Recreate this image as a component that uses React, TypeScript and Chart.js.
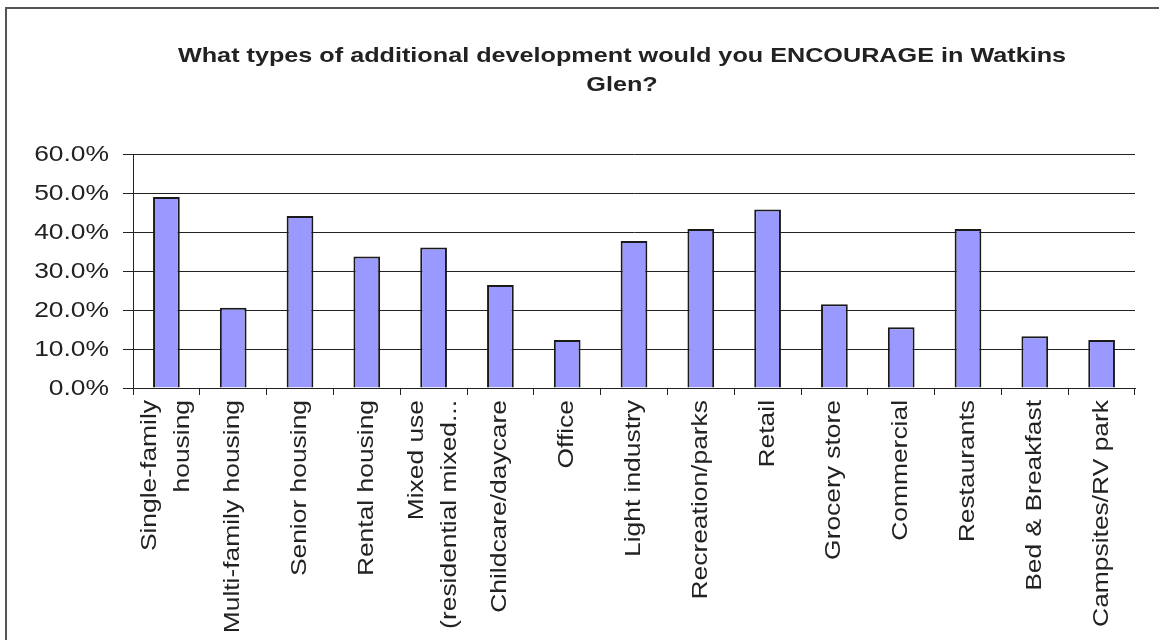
import React, { useEffect, useRef } from 'react';
import { Chart, registerables } from 'chart.js';
Chart.register(...registerables);

const categories: string[][] = [
  ['Single-family', 'housing'],
  ['Multi-family housing'],
  ['Senior housing'],
  ['Rental housing'],
  ['Mixed use', '(residential mixed...'],
  ['Childcare/daycare'],
  ['Office'],
  ['Light industry'],
  ['Recreation/parks'],
  ['Retail'],
  ['Grocery store'],
  ['Commercial'],
  ['Restaurants'],
  ['Bed & Breakfast'],
  ['Campsites/RV park'],
];
const values: number[] = [49.0, 20.6, 44.1, 33.7, 36.0, 26.4, 12.3, 37.7, 40.8, 45.8, 21.5, 15.6, 40.8, 13.3, 12.3];
const yTicks: number[] = [0, 10, 20, 30, 40, 50, 60];
const titleLines: string[] = ['What types of additional development would you ENCOURAGE in Watkins', 'Glen?'];

const FONT = '"Liberation Sans", Arial, sans-serif';
const STRETCH = 1.2;
const CANVAS_W = 1230;
const CANVAS_H = 631;

const textPlugin = {
  id: 'stretchedText',
  afterDraw(c: any) {
    const ctx = c.ctx;
    const area = c.chartArea;
    ctx.save();
    ctx.fillStyle = '#222';

    // title
    ctx.font = `bold 21px ${FONT}`;
    ctx.textAlign = 'center';
    ctx.textBaseline = 'middle';
    titleLines.forEach((ln, i) => {
      ctx.save();
      ctx.translate(c.width / 2, 47 + i * 29);
      ctx.scale(STRETCH, 1);
      ctx.fillText(ln, 0, 0);
      ctx.restore();
    });

    // y tick labels
    const ys = c.scales.y;
    ctx.font = `22px ${FONT}`;
    ctx.textAlign = 'right';
    ctx.textBaseline = 'middle';
    yTicks.forEach((v) => {
      const y = ys.getPixelForValue(v);
      ctx.save();
      ctx.translate(area.left - 24, y + 1);
      ctx.scale(STRETCH, 1);
      ctx.fillText(v.toFixed(1) + '%', 0, 0);
      ctx.restore();
    });

    // x tick labels (rotated)
    const xs = c.scales.x;
    const lh = 33;
    const top = area.bottom + 12;
    categories.forEach((lines, i) => {
      const x = xs.getPixelForTick(i);
      ctx.save();
      ctx.translate(x, top);
      ctx.rotate(-Math.PI / 2);
      ctx.scale(STRETCH, 1);
      lines.forEach((ln, j) => {
        ctx.fillText(ln, 0, (j - (lines.length - 1) / 2) * lh);
      });
      ctx.restore();
    });
    ctx.restore();
  },
};

export default function App() {
  const ref = useRef<HTMLCanvasElement>(null);
  useEffect(() => {
    document.body.style.margin = '0';
    const chart = new Chart(ref.current as HTMLCanvasElement, {
      type: 'bar',
      data: {
        labels: categories.map((l) => l.join(' ')),
        datasets: [
          {
            data: values,
            backgroundColor: '#9999FF',
            borderColor: '#1a1a1a',
            borderWidth: 2,
            barPercentage: 0.4,
            categoryPercentage: 1,
          },
        ],
      },
      options: {
        animation: false,
        responsive: false,
        maintainAspectRatio: false,
        layout: { padding: { left: 0, right: 102, top: 145, bottom: 0 } },
        plugins: {
          legend: { display: false },
          tooltip: { enabled: false },
          title: { display: false },
        },
        scales: {
          x: {
            grid: { display: true, drawOnChartArea: false, drawTicks: true, tickLength: 7, color: '#222', offset: true },
            border: { display: true, color: '#222', width: 1 },
            ticks: { display: false, autoSkip: false },
            afterFit: (s: any) => { s.height = CANVAS_H - 379; },
          },
          y: {
            min: 0,
            max: 60,
            afterBuildTicks: (s: any) => { s.ticks = yTicks.map((v) => ({ value: v })); },
            ticks: { display: false },
            grid: { color: '#222', tickLength: 10, drawTicks: true, lineWidth: 1 },
            border: { display: true, color: '#222', width: 1 },
            afterFit: (s: any) => { s.width = 126; },
          },
        },
      },
      plugins: [textPlugin],
    } as any);
    return () => chart.destroy();
  }, []);
  return (
    <div style={{ position: 'relative', width: 1159, height: 640, overflow: 'hidden', background: '#fff' }}>
      <div
        style={{
          position: 'absolute',
          left: 5,
          top: 7,
          width: CANVAS_W + 4,
          height: 700,
          border: '2px solid #555',
          boxSizing: 'border-box',
          background: '#fff',
        }}
      >
        <canvas ref={ref} width={CANVAS_W} height={CANVAS_H} style={{ display: 'block', width: CANVAS_W, height: CANVAS_H }} />
      </div>
    </div>
  );
}
